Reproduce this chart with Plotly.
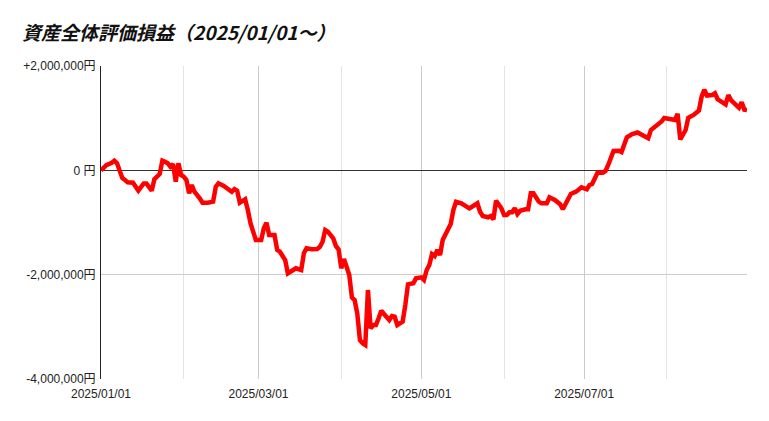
import plotly.graph_objects as go

dates = [
    "2025-01-01", "2025-01-03", "2025-01-05", "2025-01-06", "2025-01-07", "2025-01-09", "2025-01-10",
    "2025-01-11", "2025-01-13", "2025-01-15", "2025-01-17", "2025-01-18", "2025-01-20", "2025-01-21",
    "2025-01-23", "2025-01-24", "2025-01-25", "2025-01-26", "2025-01-27", "2025-01-28", "2025-01-29",
    "2025-01-30", "2025-01-31", "2025-02-01", "2025-02-02", "2025-02-03", "2025-02-04", "2025-02-05",
    "2025-02-07", "2025-02-08", "2025-02-10", "2025-02-12", "2025-02-13", "2025-02-14", "2025-02-16",
    "2025-02-17", "2025-02-18", "2025-02-19", "2025-02-20", "2025-02-21", "2025-02-22", "2025-02-24",
    "2025-02-25", "2025-02-26", "2025-02-28", "2025-03-02", "2025-03-03", "2025-03-04", "2025-03-05",
    "2025-03-07", "2025-03-08", "2025-03-09", "2025-03-11", "2025-03-12", "2025-03-14", "2025-03-15",
    "2025-03-17", "2025-03-18", "2025-03-19", "2025-03-21", "2025-03-23", "2025-03-24", "2025-03-25",
    "2025-03-26", "2025-03-27", "2025-03-29", "2025-03-30", "2025-03-31", "2025-04-01", "2025-04-02",
    "2025-04-03", "2025-04-04", "2025-04-05", "2025-04-06", "2025-04-07", "2025-04-08", "2025-04-09",
    "2025-04-10", "2025-04-11", "2025-04-12", "2025-04-13", "2025-04-14", "2025-04-15", "2025-04-16",
    "2025-04-17", "2025-04-19", "2025-04-20", "2025-04-21", "2025-04-22", "2025-04-24", "2025-04-25",
    "2025-04-26", "2025-04-28", "2025-04-29", "2025-05-01", "2025-05-02", "2025-05-03", "2025-05-04",
    "2025-05-05", "2025-05-06", "2025-05-07", "2025-05-08", "2025-05-09", "2025-05-11", "2025-05-12",
    "2025-05-13", "2025-05-14", "2025-05-16", "2025-05-17", "2025-05-19", "2025-05-21", "2025-05-22",
    "2025-05-23", "2025-05-24", "2025-05-26", "2025-05-27", "2025-05-28", "2025-05-29", "2025-05-31",
    "2025-06-01", "2025-06-02", "2025-06-03", "2025-06-04", "2025-06-05", "2025-06-06", "2025-06-07",
    "2025-06-09", "2025-06-10", "2025-06-11", "2025-06-12", "2025-06-14", "2025-06-15", "2025-06-17",
    "2025-06-18", "2025-06-20", "2025-06-22", "2025-06-23", "2025-06-25", "2025-06-26", "2025-06-28",
    "2025-06-29", "2025-06-30", "2025-07-02", "2025-07-03", "2025-07-04", "2025-07-05", "2025-07-06",
    "2025-07-08", "2025-07-09", "2025-07-10", "2025-07-11", "2025-07-12", "2025-07-14", "2025-07-15",
    "2025-07-17", "2025-07-19", "2025-07-21", "2025-07-23", "2025-07-25", "2025-07-26", "2025-07-28",
    "2025-07-30", "2025-07-31", "2025-08-02", "2025-08-04", "2025-08-05", "2025-08-06", "2025-08-08",
    "2025-08-09", "2025-08-11", "2025-08-13", "2025-08-14", "2025-08-15", "2025-08-16", "2025-08-18",
    "2025-08-19", "2025-08-20", "2025-08-23", "2025-08-24", "2025-08-25", "2025-08-27", "2025-08-28",
    "2025-08-29", "2025-08-30", "2025-08-31",
]

profit = [
    0, 100000, 145000, 185000, 135000, -150000, -185000,
    -230000, -237000, -390000, -250000, -250000, -390000, -170000,
    -70000, 185000, 165000, 135000, 70000, 120000, -218000,
    135000, -90000, -122000, -185000, -440000, -281000, -410000,
    -536000, -620000, -620000, -600000, -314000, -249000, -300000,
    -345000, -390000, -410000, -358000, -390000, -620000, -555000,
    -760000, -1015000, -1336000, -1336000, -1111000, -1004000, -1240000,
    -1240000, -1527000, -1560000, -1719000, -1974000, -1910000, -1878000,
    -1910000, -1590000, -1495000, -1514000, -1508000, -1464000, -1368000,
    -1144000, -1176000, -1303000, -1451000, -1514000, -1878000, -1700000,
    -1847000, -2006000, -2438000, -2486000, -2741000, -3253000, -3316000,
    -3348000, -2294000, -3028000, -2965000, -2965000, -2837000, -2691000,
    -2754000, -2869000, -2792000, -2806000, -2965000, -2902000, -2582000,
    -2185000, -2166000, -2070000, -2051000, -2102000, -1911000, -1815000,
    -1605000, -1643000, -1527000, -1623000, -1336000, -1111000, -1029000,
    -760000, -601000, -632000, -665000, -728000, -665000, -632000,
    -793000, -875000, -900000, -875000, -939000, -582000, -728000,
    -856000, -856000, -805000, -805000, -728000, -837000, -774000,
    -747000, -747000, -440000, -440000, -601000, -632000, -632000,
    -517000, -569000, -651000, -747000, -555000, -453000, -409000,
    -358000, -325000, -364000, -281000, -262000, -153000, -45000,
    -45000, -13000, 102000, 236000, 370000, 376000, 351000,
    633000, 696000, 725000, 677000, 614000, 773000, 850000,
    936000, 1003000, 978000, 965000, 1083000, 591000, 773000,
    1007000, 1061000, 1147000, 1411000, 1546000, 1434000, 1444000,
    1476000, 1362000, 1262000, 1444000, 1348000, 1227000, 1199000,
    1306000, 1164000, 1156000,
]

y_tickvals = [-4000000, -2000000, 0, 2000000]
y_ticktext = ["-4,000,000円", "-2,000,000円", "0 円", "+2,000,000円"]
x_tickvals = ["2025-01-01", "2025-03-01", "2025-05-01", "2025-07-01"]
x_ticktext = ["2025/01/01", "2025/03/01", "2025/05/01", "2025/07/01"]
title_text = "資産全体評価損益（2025/01/01～）"

fig = go.Figure()
fig.add_trace(go.Scatter(
    x=dates, y=profit, mode="lines",
    line=dict(color="#ff0000", width=4.5),
    showlegend=False, hoverinfo="skip",
))

fig.update_layout(
    width=769, height=421,
    margin=dict(l=101, r=22, t=66, b=42),
    paper_bgcolor="white", plot_bgcolor="white",
    title=dict(
        text=title_text,
        x=22 / 769, xref="container", xanchor="left",
        y=1 - 33 / 421, yref="container", yanchor="middle",
        font=dict(family="Noto Sans CJK JP", size=19, color="#111111", weight=700, style="italic"),
    ),
    font=dict(family="Liberation Sans, Noto Sans CJK JP", size=12, color="#222222"),
    hovermode=False,
)

fig.update_xaxes(
    range=["2025-01-01", "2025-08-31"],
    tickmode="array", tickvals=x_tickvals, ticktext=x_ticktext,
    showgrid=True, gridcolor="#cccccc", gridwidth=1,
    minor=dict(dtick="M1", tick0="2025-01-01", showgrid=True, gridcolor="#e3e3e3", gridwidth=1),
    showline=False, zeroline=False, ticks="",
    ticklabelstandoff=6,
    tickfont=dict(size=12, color="#222222"),
)

fig.update_yaxes(
    range=[-4000000, 2000000],
    tickmode="array", tickvals=y_tickvals, ticktext=y_ticktext,
    showgrid=True, gridcolor="#cccccc", gridwidth=1,
    zeroline=True, zerolinecolor="#333333", zerolinewidth=1,
    showline=True, linecolor="#222222", linewidth=1,
    ticks="", ticklabelstandoff=2,
    tickfont=dict(size=12, color="#222222"),
)

fig.write_html(
    "out.html",
    config={"displayModeBar": False},
    post_script="document.body.style.margin='0';",
)
